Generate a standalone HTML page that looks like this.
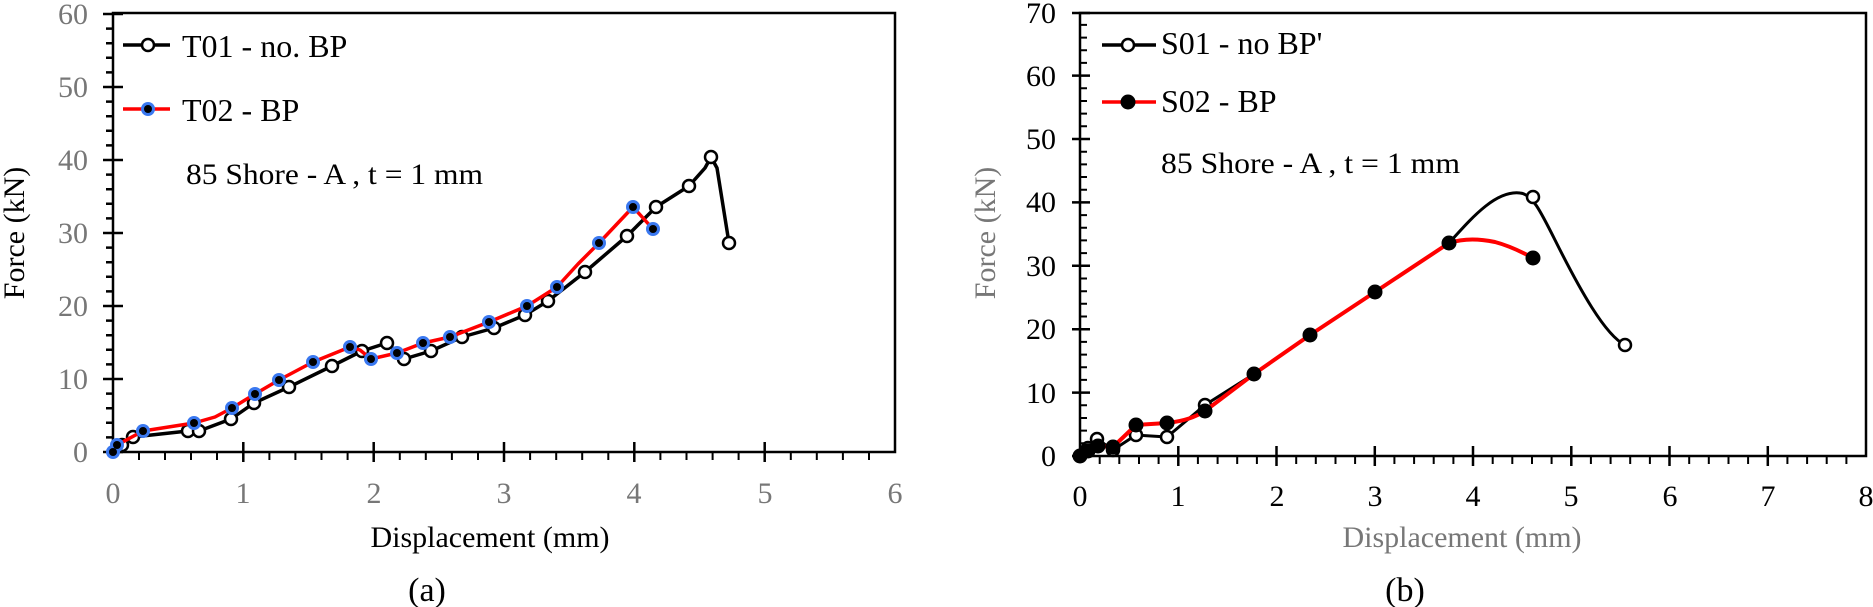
<!DOCTYPE html>
<html><head><meta charset="utf-8"><style>
html,body{margin:0;padding:0;background:#fff;}
svg{display:block;font-family:"Liberation Serif",serif;}
</style></head><body>
<svg width="1873" height="607" viewBox="0 0 1873 607" xmlns="http://www.w3.org/2000/svg">
<rect width="1873" height="607" fill="#fff"/>
<g stroke="#000" stroke-width="2.5" fill="none">
<rect x="113" y="13" width="782" height="439"/>
<path d="M103 452H123M103 379H123M103 306H123M103 233H123M103 160H123M103 87H123M103 14H123"/>
<path d="M106 437.4H113M106 422.8H113M106 408.2H113M106 393.6H113M106 364.4H113M106 349.8H113M106 335.2H113M106 320.6H113M106 291.4H113M106 276.8H113M106 262.2H113M106 247.6H113M106 218.4H113M106 203.8H113M106 189.2H113M106 174.6H113M106 145.4H113M106 130.8H113M106 116.2H113M106 101.6H113M106 72.4H113M106 57.8H113M106 43.2H113M106 28.6H113"/>
<path d="M243.3 442V462M373.7 442V462M504 442V462M634.3 442V462M764.7 442V462"/>
</g>
<g stroke="#000" stroke-width="2">
<path d="M139 452v8M165 452v8M191 452v8M217 452v8M269.4 452v8M295.4 452v8M321.5 452v8M347.6 452v8M399.8 452v8M425.8 452v8M451.9 452v8M478 452v8M530.1 452v8M556.2 452v8M582.2 452v8M608.3 452v8M660.4 452v8M686.5 452v8M712.6 452v8M738.6 452v8M790.8 452v8M816.8 452v8M842.9 452v8M869 452v8"/>
</g>
<g fill="#777" font-size="30" text-anchor="end">
<text x="88" y="462">0</text><text x="88" y="389">10</text><text x="88" y="316">20</text><text x="88" y="243">30</text><text x="88" y="170">40</text><text x="88" y="97">50</text><text x="88" y="24">60</text>
</g>
<g fill="#777" font-size="30" text-anchor="middle">
<text x="113" y="503">0</text><text x="243" y="503">1</text><text x="374" y="503">2</text><text x="504" y="503">3</text><text x="634" y="503">4</text><text x="765" y="503">5</text><text x="895" y="503">6</text>
</g>
<text x="490" y="547" font-size="30" text-anchor="middle" fill="#000">Displacement (mm)</text>
<text x="427" y="601" font-size="34" text-anchor="middle" fill="#000">(a)</text>
<text transform="translate(24,233) rotate(-90)" font-size="30" text-anchor="middle" fill="#000">Force (kN)</text>
<polyline fill="none" stroke="#000" stroke-width="3.5" stroke-linejoin="round" points="113,452 122,445 133,437 188,431 199,431 231,419 254,403 289,387 332,366 362,351 387,343 404,359 431,351 462,337 494,328 525,315 548,301 585,272 627,236 656,207 689,186 705,168 711,157 717,168 729,243"/>
<g fill="#fff" stroke="#000" stroke-width="2.5">
<circle cx="122" cy="445" r="6"/><circle cx="133" cy="437" r="6"/><circle cx="188" cy="431" r="6"/><circle cx="199" cy="431" r="6"/><circle cx="231" cy="419" r="6"/><circle cx="254" cy="403" r="6"/><circle cx="289" cy="387" r="6"/><circle cx="332" cy="366" r="6"/><circle cx="362" cy="351" r="6"/><circle cx="387" cy="343" r="6"/><circle cx="404" cy="359" r="6"/><circle cx="431" cy="351" r="6"/><circle cx="462" cy="337" r="6"/><circle cx="494" cy="328" r="6"/><circle cx="525" cy="315" r="6"/><circle cx="548" cy="301" r="6"/><circle cx="585" cy="272" r="6"/><circle cx="627" cy="236" r="6"/><circle cx="656" cy="207" r="6"/><circle cx="689" cy="186" r="6"/><circle cx="711" cy="157" r="6"/><circle cx="729" cy="243" r="6"/>
</g>
<polyline fill="none" stroke="#f00" stroke-width="3.5" stroke-linejoin="round" points="113,452 117,445 143,431 194,423 215,417 232,408 255,394 279,380 313,362 350,347 360,350 371,359 397,353 423,343 450,337 489,322 527,306 557,287 578,264 599,243 633,207 653,229"/>
<g fill="#3a78f0"><circle cx="113" cy="452" r="7"/><circle cx="117" cy="445" r="7"/><circle cx="143" cy="431" r="7"/><circle cx="194" cy="423" r="7"/><circle cx="232" cy="408" r="7"/><circle cx="255" cy="394" r="7"/><circle cx="279" cy="380" r="7"/><circle cx="313" cy="362" r="7"/><circle cx="350" cy="347" r="7"/><circle cx="371" cy="359" r="7"/><circle cx="397" cy="353" r="7"/><circle cx="423" cy="343" r="7"/><circle cx="450" cy="337" r="7"/><circle cx="489" cy="322" r="7"/><circle cx="527" cy="306" r="7"/><circle cx="557" cy="287" r="7"/><circle cx="599" cy="243" r="7"/><circle cx="633" cy="207" r="7"/><circle cx="653" cy="229" r="7"/></g>
<g fill="#000"><circle cx="113" cy="452" r="4"/><circle cx="117" cy="445" r="4"/><circle cx="143" cy="431" r="4"/><circle cx="194" cy="423" r="4"/><circle cx="232" cy="408" r="4"/><circle cx="255" cy="394" r="4"/><circle cx="279" cy="380" r="4"/><circle cx="313" cy="362" r="4"/><circle cx="350" cy="347" r="4"/><circle cx="371" cy="359" r="4"/><circle cx="397" cy="353" r="4"/><circle cx="423" cy="343" r="4"/><circle cx="450" cy="337" r="4"/><circle cx="489" cy="322" r="4"/><circle cx="527" cy="306" r="4"/><circle cx="557" cy="287" r="4"/><circle cx="599" cy="243" r="4"/><circle cx="633" cy="207" r="4"/><circle cx="653" cy="229" r="4"/></g>
<line x1="123" y1="45" x2="170" y2="45" stroke="#000" stroke-width="3.5"/>
<circle cx="148" cy="45" r="6" fill="#fff" stroke="#000" stroke-width="2.5"/>
<text x="182" y="57" font-size="32" fill="#000">T01 - no. BP</text>
<line x1="123" y1="109" x2="170" y2="109" stroke="#f00" stroke-width="3.5"/>
<circle cx="148" cy="109" r="7" fill="#3a78f0"/><circle cx="148" cy="109" r="4" fill="#000"/>
<text x="182" y="121" font-size="32" fill="#000">T02 -  BP</text>
<text x="186" y="184" font-size="30" fill="#000" textLength="297" lengthAdjust="spacingAndGlyphs">85 Shore - A , t = 1 mm</text>

<g stroke="#000" stroke-width="2.5" fill="none">
<rect x="1080" y="13" width="786" height="443"/>
<path d="M1072 456H1090M1072 392.6H1090M1072 329.2H1090M1072 265.8H1090M1072 202.4H1090M1072 139H1090M1072 75.6H1090M1072 13H1090"/>
<path d="M1178.3 446V466M1276.5 446V466M1374.8 446V466M1473 446V466M1571.3 446V466M1669.5 446V466M1767.8 446V466"/>
</g>
<g stroke="#000" stroke-width="2">
<path d="M1080 443.3h7M1080 430.6h7M1080 418h7M1080 405.3h7M1080 379.9h7M1080 367.2h7M1080 354.6h7M1080 341.9h7M1080 316.5h7M1080 303.8h7M1080 291.2h7M1080 278.5h7M1080 253.1h7M1080 240.4h7M1080 227.8h7M1080 215.1h7M1080 189.7h7M1080 177h7M1080 164.4h7M1080 151.7h7M1080 126.3h7M1080 113.6h7M1080 101h7M1080 88.3h7M1080 62.9h7M1080 50.2h7M1080 37.6h7M1080 24.9h7"/>
<path d="M1099.7 456v8M1119.3 456v8M1139 456v8M1158.6 456v8M1197.9 456v8M1217.6 456v8M1237.2 456v8M1256.9 456v8M1296.2 456v8M1315.8 456v8M1335.5 456v8M1355.1 456v8M1394.4 456v8M1414.1 456v8M1433.7 456v8M1453.4 456v8M1492.7 456v8M1512.3 456v8M1532 456v8M1551.6 456v8M1590.9 456v8M1610.6 456v8M1630.2 456v8M1649.9 456v8M1689.2 456v8M1708.8 456v8M1728.5 456v8M1748.1 456v8M1787.4 456v8M1807.1 456v8M1826.7 456v8M1846.4 456v8"/>
</g>
<g fill="#000" font-size="30" text-anchor="end">
<text x="1056" y="466">0</text><text x="1056" y="403">10</text><text x="1056" y="339">20</text><text x="1056" y="276">30</text><text x="1056" y="212">40</text><text x="1056" y="149">50</text><text x="1056" y="86">60</text><text x="1056" y="23">70</text>
</g>
<g fill="#000" font-size="30" text-anchor="middle">
<text x="1080" y="506">0</text><text x="1178" y="506">1</text><text x="1277" y="506">2</text><text x="1375" y="506">3</text><text x="1473" y="506">4</text><text x="1571" y="506">5</text><text x="1670" y="506">6</text><text x="1768" y="506">7</text><text x="1866" y="506">8</text>
</g>
<text x="1462" y="547" font-size="30" text-anchor="middle" fill="#777">Displacement (mm)</text>
<text x="1405" y="601" font-size="34" text-anchor="middle" fill="#000">(b)</text>
<text transform="translate(995,233) rotate(-90)" font-size="30" text-anchor="middle" fill="#777">Force (kN)</text>
<path fill="none" stroke="#000" stroke-width="3" stroke-linejoin="round" d="M1080 456 L1088 448 L1097 439 L1113 450 L1136 435 L1167 437 L1205 405 L1254 374 L1310 335 L1375 292 L1449 243 C1470 220 1495 190 1520 193 C1532 194 1540 210 1555 240 C1580 290 1605 335 1625 345"/>
<g fill="#fff" stroke="#000" stroke-width="2.5">
<circle cx="1088" cy="448" r="6"/><circle cx="1097" cy="439" r="6"/><circle cx="1113" cy="450" r="6"/><circle cx="1136" cy="435" r="6"/><circle cx="1167" cy="437" r="6"/><circle cx="1205" cy="405" r="6"/><circle cx="1533" cy="197" r="6"/><circle cx="1625" cy="345" r="6"/>
</g>
<path fill="none" stroke="#f00" stroke-width="4" stroke-linejoin="round" d="M1080 456 L1088 451 L1098 446 L1113 447 L1136 425 L1167 423 C1185 421 1195 417 1205 411 L1254 374 L1310 335 L1375 292 L1449 243 C1465 238 1480 239 1495 242 C1510 246 1522 252 1533 258"/>
<g fill="#000">
<circle cx="1080" cy="456" r="7.5"/><circle cx="1088" cy="451" r="7.5"/><circle cx="1098" cy="446" r="7.5"/><circle cx="1113" cy="447" r="7.5"/><circle cx="1136" cy="425" r="7.5"/><circle cx="1167" cy="423" r="7.5"/><circle cx="1205" cy="411" r="7.5"/><circle cx="1254" cy="374" r="7.5"/><circle cx="1310" cy="335" r="7.5"/><circle cx="1375" cy="292" r="7.5"/><circle cx="1449" cy="243" r="7.5"/><circle cx="1533" cy="258" r="7.5"/>
</g>
<line x1="1102" y1="45" x2="1156" y2="45" stroke="#000" stroke-width="3.5"/>
<circle cx="1128" cy="45" r="6" fill="#fff" stroke="#000" stroke-width="2.5"/>
<text x="1161" y="54" font-size="32" fill="#000">S01 - no BP'</text>
<line x1="1102" y1="102" x2="1156" y2="102" stroke="#f00" stroke-width="3.5"/>
<circle cx="1128" cy="102" r="7.5" fill="#000"/>
<text x="1161" y="112" font-size="32" fill="#000">S02 -  BP</text>
<text x="1161" y="173" font-size="30" fill="#000" textLength="299" lengthAdjust="spacingAndGlyphs">85 Shore - A , t = 1 mm</text>
</svg>
</body></html>
